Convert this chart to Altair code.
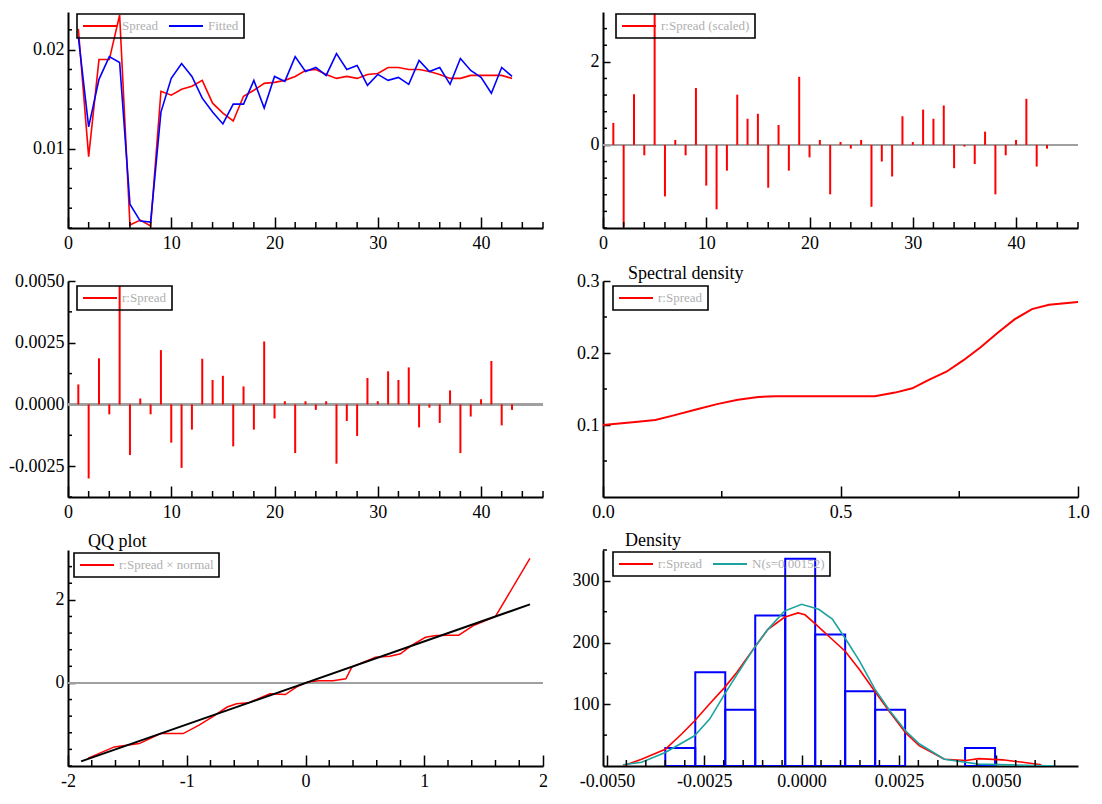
import pandas as pd
import altair as alt

SERIF = "Liberation Serif"
W, H = 475, 216

# ---------------- data ----------------
t = list(range(1, 44))
spread = [0.0221, 0.0092, 0.0190, 0.0190, 0.0235, 0.0023, 0.0028, 0.0022, 0.0158, 0.0154,
          0.0160, 0.0163, 0.0169, 0.0146, 0.0136, 0.0128, 0.0153, 0.0159, 0.0166, 0.0167,
          0.0169, 0.0173, 0.0179, 0.0180, 0.0175, 0.0171, 0.0173, 0.0171, 0.0175, 0.0176,
          0.0182, 0.0182, 0.0180, 0.0180, 0.0178, 0.0175, 0.0171, 0.0171, 0.0174, 0.0174,
          0.0174, 0.0174, 0.0171]
fitted = [0.0213, 0.0122, 0.0170, 0.0193, 0.0187, 0.0044, 0.0027, 0.0026, 0.0137, 0.0171,
          0.0186, 0.0173, 0.0151, 0.0137, 0.0125, 0.0145, 0.0145, 0.0169, 0.0141, 0.0173,
          0.0168, 0.0193, 0.0178, 0.0182, 0.0174, 0.0196, 0.0180, 0.0184, 0.0164, 0.0175,
          0.0169, 0.0172, 0.0165, 0.0189, 0.0178, 0.0182, 0.0165, 0.0191, 0.0179, 0.0172,
          0.0156, 0.0182, 0.0173]
resid = [0.00081, -0.0030, 0.00187, -0.0004, 0.0048, -0.00205, 0.00024, -0.0004, 0.0022, -0.00155,
         -0.00257, -0.00102, 0.00185, 0.00099, 0.00116, -0.0017, 0.00073, -0.00102, 0.00255, -0.00057,
         0.00013, -0.00197, 0.00013, -0.00022, 0.00013, -0.0024, -0.00067, -0.00128, 0.00107, 0.00013,
         0.00134, 0.00099, 0.0015, -0.00093, -0.00013, -0.00075, 0.00057, -0.00197, -0.00049, 0.00021,
         0.00176, -0.00085, -0.00022]
scaled = [0.53, -1.97, 1.22, -0.25, 3.16, -1.24, 0.12, -0.25, 1.37, -0.98,
          -1.55, -0.62, 1.21, 0.63, 0.75, -1.03, 0.48, -0.62, 1.64, -0.30,
          0.12, -1.19, 0.07, -0.09, 0.12, -1.49, -0.40, -0.76, 0.69, 0.07,
          0.85, 0.63, 0.95, -0.56, -0.04, -0.46, 0.32, -1.19, -0.25, 0.12,
          1.11, -0.52, -0.09]

spec_x = [0.0, 0.068, 0.11, 0.147, 0.198, 0.24, 0.284, 0.327, 0.363, 0.572, 0.615, 0.651,
          0.687, 0.723, 0.759, 0.795, 0.831, 0.867, 0.903, 0.939, 1.0]
spec_y = [0.100, 0.104, 0.107, 0.113, 0.122, 0.129, 0.135, 0.139, 0.140, 0.140, 0.145, 0.151,
          0.163, 0.174, 0.190, 0.208, 0.228, 0.247, 0.261, 0.267, 0.271]

qq_x = [-1.83, -1.61, -1.40, -1.22, -1.03, -0.90, -0.78, -0.66, -0.58, -0.48, -0.30, -0.17,
        -0.07, 0.02, 0.11, 0.23, 0.34, 0.39, 0.59, 0.71, 0.80, 0.89, 1.01, 1.10, 1.20, 1.29,
        1.42, 1.60, 1.89]
qq_y = [-1.81, -1.54, -1.46, -1.22, -1.22, -1.02, -0.81, -0.58, -0.50, -0.48, -0.26, -0.28,
        -0.09, 0.02, 0.05, 0.05, 0.10, 0.38, 0.62, 0.64, 0.70, 0.90, 1.10, 1.14, 1.15, 1.15,
        1.39, 1.60, 3.00]
ref_x = [-1.89, 1.89]
ref_y = [-1.89, 1.89]

hist_lo = [-0.0035, -0.00273, -0.00196, -0.00119, -0.00042, 0.00035, 0.00112, 0.00189, 0.0042]
hist_hi = [-0.00273, -0.00196, -0.00119, -0.00042, 0.00035, 0.00112, 0.00189, 0.00266, 0.00497]
hist_d = [29, 152, 91, 244, 336, 213, 121, 91, 29]

kde_x = [-0.00459, -0.00411, -0.0035, -0.00306, -0.00275, -0.00236, -0.00198, -0.00166, -0.00122,
         -0.00087, -0.00044, -0.00009, 0.00009, 0.00036, 0.00079, 0.00112, 0.00149, 0.00188,
         0.00227, 0.00267, 0.00302, 0.00367, 0.00422, 0.00455, 0.00516, 0.00568, 0.00616]
kde_y = [0, 11, 27, 53, 73, 101, 127, 152, 191, 221, 241, 248, 245, 230, 205, 186, 156, 121,
         87, 54, 33, 11, 9, 12, 10, 6, 2]

norm_x = [-0.00459, -0.00411, -0.0035, -0.00275, -0.00236, -0.00198, -0.00166, -0.00122, -0.00087,
          -0.00044, 0.0, 0.00044, 0.00079, 0.00114, 0.00149, 0.00188, 0.00227, 0.00267, 0.00302,
          0.00367, 0.00455, 0.00651]
norm_y = [2, 6, 22, 49, 76, 116, 148, 191, 221, 251, 262, 254, 238, 205, 170, 125, 89, 57, 36,
          11, 3, 0]

# axis ticks (major = labelled, minor = small inside ticks)
t_major = [0, 10, 20, 30, 40]
t_minor_step = 2
p1_y_major = [0.01, 0.02]
p2_y_major = [0, 2]
p3_y_major = [-0.0025, 0.0, 0.0025, 0.005]
p4_x_major = [0.0, 0.5, 1.0]
p4_y_major = [0.1, 0.2, 0.3]
p5_x_major = [-2, -1, 0, 1, 2]
p6_x_major = [-0.005, -0.0025, 0.0, 0.0025, 0.005]
p6_y_major = [100, 200, 300]

RED, BLUE, TEAL, GREY = "#ff0000", "#0000ff", "#1aa3a0", "#a0a0a0"
X_MAJ, X_MIN, Y_MAJ, Y_MIN = 11, 6, 7, 4


# ---------------- helpers ----------------
def tick_list(a, b, step):
    n = int(round((b - a) / step))
    return [round(a + i * step, 10) for i in range(n + 1)]


def minors(a, b, step, majors):
    return [v for v in tick_list(a, b, step) if all(abs(v - m) > 1e-12 for m in majors)]


def lab(spec):
    return f"(datum.value < 0 ? '-' : '') + format(abs(datum.value), '{spec}')"


def make_axis(orient, majors, spec):
    if orient == "bottom":
        size, pad = X_MAJ, 6
    else:
        size, pad = Y_MAJ, 4
    return alt.Axis(orient=orient, values=majors, title=None, labelExpr=lab(spec),
                    tickSize={"expr": str(-size)}, labelPadding=size + pad)


def minor_x(vals):
    return alt.Chart(pd.DataFrame({"mx": vals})).mark_rule(color="black", strokeWidth=1.5).encode(
        x="mx:Q", y=alt.value(H), y2=alt.value(H - X_MIN))


def minor_y(vals):
    return alt.Chart(pd.DataFrame({"my": vals})).mark_rule(color="black", strokeWidth=1.5).encode(
        y="my:Q", x=alt.value(0), x2=alt.value(Y_MIN))


def legend(x, y):
    return alt.Legend(title=None, orient="none", legendX=x, legendY=y, direction="horizontal")


def title(text, dx, offset):
    return alt.TitleParams(text=text, anchor="start", frame="group", dx=dx, offset=offset)


def qscale(lo, hi):
    return alt.Scale(domain=[lo, hi], nice=False, zero=False)


x_time = alt.X("t:Q", scale=qscale(0, 46), axis=make_axis("bottom", t_major, "d"))
t_minor = minors(0, 46, t_minor_step, t_major)

# ---------------- panel 1 : Spread & Fitted ----------------
df1 = pd.DataFrame({"t": t + t, "v": spread + fitted,
                    "s": ["Spread"] * len(t) + ["Fitted"] * len(t)})
line1 = alt.Chart(df1).mark_line(strokeWidth=1.6, clip=True).encode(
    x=x_time,
    y=alt.Y("v:Q", scale=qscale(0.002, 0.0238), axis=make_axis("left", p1_y_major, ".2f")),
    color=alt.Color("s:N", scale=alt.Scale(domain=["Spread", "Fitted"], range=[RED, BLUE]),
                    legend=legend(9, 2)),
)
p1 = alt.layer(line1, minor_x(t_minor),
               minor_y(minors(0.002, 0.022, 0.002, p1_y_major))).properties(width=W, height=H)

# ---------------- panel 2 : scaled residuals ----------------
df2 = pd.DataFrame({"t": t, "v": scaled, "s": ["r:Spread (scaled)"] * len(t)})
zero2 = alt.Chart(df2).mark_rule(color=GREY, strokeWidth=2).encode(y=alt.datum(0))
stem2 = alt.Chart(df2).mark_rule(strokeWidth=2, clip=True).encode(
    x=x_time,
    y=alt.Y("v:Q", scale=qscale(-2, 3.2), axis=make_axis("left", p2_y_major, "d")),
    y2=alt.datum(0),
    color=alt.Color("s:N", scale=alt.Scale(domain=["r:Spread (scaled)"], range=[RED]),
                    legend=legend(13, 2)),
)
p2 = alt.layer(zero2, stem2, minor_x(t_minor),
               minor_y(minors(-2, 2.8, 0.4, p2_y_major))).properties(width=W, height=H)

# ---------------- panel 3 : residuals ----------------
df3 = pd.DataFrame({"t": t, "v": resid, "s": ["r:Spread"] * len(t)})
zero3 = alt.Chart(df3).mark_rule(color=GREY, strokeWidth=2).encode(y=alt.datum(0))
stem3 = alt.Chart(df3).mark_rule(strokeWidth=2, clip=True).encode(
    x=x_time,
    y=alt.Y("v:Q", scale=qscale(-0.00375, 0.005), axis=make_axis("left", p3_y_major, ".4f")),
    y2=alt.datum(0),
    color=alt.Color("s:N", scale=alt.Scale(domain=["r:Spread"], range=[RED]),
                    legend=legend(9, 5)),
)
p3 = alt.layer(zero3, stem3, minor_x(t_minor),
               minor_y(minors(-0.00375, 0.005, 0.00125, p3_y_major))).properties(width=W, height=H)

# ---------------- panel 4 : spectral density ----------------
df4 = pd.DataFrame({"f": spec_x, "v": spec_y, "s": ["r:Spread"] * len(spec_x)})
line4 = alt.Chart(df4).mark_line(strokeWidth=2, clip=True).encode(
    x=alt.X("f:Q", scale=qscale(0, 1), axis=make_axis("bottom", p4_x_major, ".1f")),
    y=alt.Y("v:Q", scale=qscale(0, 0.3), axis=make_axis("left", p4_y_major, ".1f")),
    color=alt.Color("s:N", scale=alt.Scale(domain=["r:Spread"], range=[RED]),
                    legend=legend(10, 5)),
)
p4 = alt.layer(line4, minor_x(minors(0, 1, 0.25, p4_x_major)),
               minor_y(minors(0.05, 0.3, 0.05, p4_y_major))).properties(
    width=W, height=H, title=title("Spectral density", 25, -11))

# ---------------- panel 5 : QQ plot ----------------
df5 = pd.DataFrame({"q": qq_x, "v": qq_y, "s": ["r:Spread \u00d7 normal"] * len(qq_x)})
df5r = pd.DataFrame({"q": ref_x, "v": ref_y})
x5 = alt.X("q:Q", scale=qscale(-2, 2), axis=make_axis("bottom", p5_x_major, "d"))
y5 = alt.Y("v:Q", scale=qscale(-2, 3.2), axis=make_axis("left", p2_y_major, "d"))
zero5 = alt.Chart(df5r).mark_rule(color=GREY, strokeWidth=2).encode(y=alt.datum(0))
qq5 = alt.Chart(df5).mark_line(strokeWidth=1.5, clip=True).encode(
    x=x5, y=y5,
    color=alt.Color("s:N", scale=alt.Scale(domain=["r:Spread \u00d7 normal"], range=[RED]),
                    legend=legend(6, 3)),
)
ref5 = alt.Chart(df5r).mark_line(color="black", strokeWidth=2, clip=True).encode(x=x5, y=y5)
p5 = alt.layer(zero5, qq5, ref5, minor_x(minors(-2, 2, 0.2, p5_x_major)),
               minor_y(minors(-2, 2.8, 0.4, p2_y_major))).properties(
    width=W, height=H, title=title("QQ plot", 20, -1))

# ---------------- panel 6 : density ----------------
dfh = pd.DataFrame({"x": hist_lo, "hi": hist_hi, "y": hist_d})
dfk = pd.DataFrame({"x": kde_x, "y": kde_y, "s": ["r:Spread"] * len(kde_x)})
dfn = pd.DataFrame({"x": norm_x, "y": norm_y, "s": ["N(s=0.00152)"] * len(norm_x)})
x6 = alt.X("x:Q", scale=qscale(-0.0051, 0.0071), axis=make_axis("bottom", p6_x_major, ".4f"))
y6 = alt.Y("y:Q", scale=qscale(0, 350), axis=make_axis("left", p6_y_major, "d"))
col6 = alt.Color("s:N", scale=alt.Scale(domain=["r:Spread", "N(s=0.00152)"], range=[RED, TEAL]),
                 legend=legend(10, 2))
hist6 = alt.Chart(dfh).mark_rect(fill="transparent", stroke=BLUE, strokeWidth=2, clip=True).encode(
    x=x6, x2="hi:Q", y=y6, y2=alt.datum(0))
kde6 = alt.Chart(dfk).mark_line(strokeWidth=1.6, clip=True).encode(x=x6, y=y6, color=col6)
norm6 = alt.Chart(dfn).mark_line(strokeWidth=1.6, clip=True).encode(x=x6, y=y6, color=col6)
p6 = alt.layer(hist6, kde6, norm6, minor_x(minors(-0.005, 0.0065, 0.0005, p6_x_major)),
               minor_y(minors(50, 350, 50, p6_y_major))).properties(
    width=W, height=H, title=title("Density", 22, -1))

chart = alt.concat(
    p1, p2, p3, p4, p5, p6, columns=2, spacing={"row": 53, "column": 60}, bounds="flush"
).resolve_scale(
    color="independent"
).properties(
    padding={"left": 0, "top": 4, "right": 0, "bottom": 0}
).configure_view(
    strokeWidth=0
).configure_axis(
    domainColor="black", domainWidth=2, tickColor="black", tickWidth=1.5,
    labelFont=SERIF, labelFontSize=18, labelColor="black", grid=False,
    labelOverlap=False, labelFlush=False
).configure_legend(
    strokeColor="black", strokeWidth=1.6, padding=5, labelFont=SERIF, labelFontSize=13,
    labelColor="#b0b0b0", symbolType="stroke", symbolSize=1156, symbolStrokeWidth=2,
    clipHeight=14, columnPadding=9, labelOffset=4, cornerRadius=0
).configure_title(
    font=SERIF, fontSize=18, fontWeight="normal", color="black"
)

chart.save("out.html", embed_options={"renderer": "svg", "actions": False})
